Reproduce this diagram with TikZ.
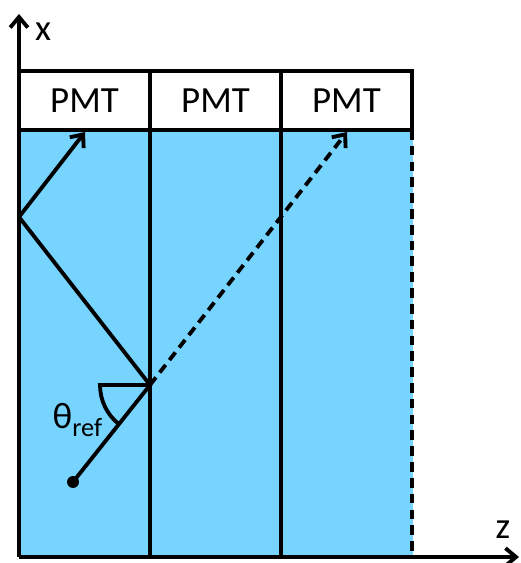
\documentclass[tikz,border=0pt]{standalone}
\usepackage{fontspec}
\setmainfont{Carlito}
\usepackage{tikz}
\usetikzlibrary{positioning, arrows.meta}
\definecolor{scintColor}{HTML}{76D4FE}

\begin{document}
\begin{tikzpicture}[x=0.02cm, y=-0.02cm, line width=2.2pt,
    >={Straight Barb[length=6pt, width=10pt]},
    pmtbox/.style={draw, fill=white, outer sep=0pt, inner sep=0pt,
        minimum width=2.62cm, minimum height=1.18cm,
        font=\fontsize{21}{25}\selectfont},
    raydash/.style={dash pattern=on 5.5pt off 3.5pt}]
    \useasboundingbox (0,0) rectangle (520,563);
    \fill[scintColor] (19,130) rectangle (413,557);
    \node[pmtbox] (pmt1) at (84.5,100.5) {PMT};
    \node[pmtbox, right=0pt of pmt1] (pmt2) {PMT};
    \node[pmtbox, right=0pt of pmt2] (pmt3) {PMT};
    \draw (pmt2.south west) -- (pmt2.south west |- 0,557);
    \draw (pmt3.south west) -- (pmt3.south west |- 0,557);
    \draw[raydash] (pmt3.south east) -- (pmt3.south east |- 0,557);
    % axes
    \coordinate (origin) at (19,557);
    \coordinate (xtip) at (19,14);
    \coordinate (ztip) at (519,557);
    \draw[->] (origin) -- (xtip);
    \draw[->] (origin) -- (ztip);
    \node[font=\fontsize{21}{25}\selectfont] (xlabel) at (43,32) {x};
    \node[font=\fontsize{21}{25}\selectfont] (zlabel) at (503,530) {z};
    % rays
    \coordinate (src) at (73,482);
    \coordinate (hit) at (150,385);
    \coordinate (wall) at (19,217);
    \coordinate (pmthit) at (85,132);
    \coordinate (farhit) at (347,132);
    \coordinate (normal) at (100,385);
    \fill (src) circle (3.4pt);
    \draw (src) -- (hit) -- (wall);
    \draw[->] (wall) -- (pmthit);
    \draw[->, raydash] (hit) -- (farhit);
    \draw (hit) -- (normal) arc[start angle=180, end angle=231.6, radius=1cm];
    \node[anchor=east, font=\fontsize{21}{25}\selectfont, inner sep=0pt] (thetalabel) at (104,420)
        {θ\raisebox{-0.45ex}{\fontsize{15}{15}\selectfont ref}};
\end{tikzpicture}
\end{document}
